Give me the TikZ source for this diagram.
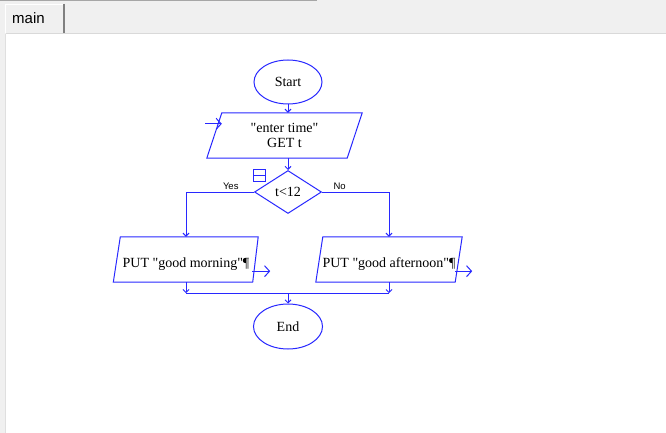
\documentclass[tikz,border=0pt]{standalone}
\usepackage{fontspec}
\setmainfont{Liberation Serif}
\newfontfamily\guifont{Liberation Sans}
\usetikzlibrary{shapes.geometric,arrows.meta}
\definecolor{flowblue}{RGB}{40,40,255}
\definecolor{panelgray}{RGB}{240,240,240}
\newcommand\qt{\textquotedbl}
\begin{document}
\begin{tikzpicture}[x=1pt,y=-1pt,
    >={Straight Barb[length=3pt,width=6pt]},
    flow/.style={draw=flowblue,line width=1pt,inner sep=0pt,font=\fontsize{14}{15}\selectfont},
    term/.style={flow,ellipse,minimum width=68pt,minimum height=44pt},
    io/.style={inner sep=0pt,font=\fontsize{14}{15}\selectfont,minimum height=45pt,align=center},
    putbox/.style={io,text height=19pt,text depth=3pt},
    slant/.style={draw=flowblue,line width=1pt},
    decide/.style={flow,diamond,minimum width=67pt,minimum height=43pt},
    link/.style={draw=flowblue,line width=1pt,->},
    iolink/.style={draw=flowblue,line width=1pt,-{Straight Barb[length=5pt,width=11pt]}},
    branch/.style={font=\guifont\fontsize{9.5}{10}\selectfont,inner sep=1pt}]
    % window
    \useasboundingbox (0,0) rectangle (666,433);
    \fill[panelgray] (0,0) rectangle (666,433);
    \fill[white] (6,34) rectangle (666,433);
    \draw[gray!30] (6,33.5) -- (666,33.5);
    \draw[gray!25] (5.5,34) -- (5.5,433);
    \draw[gray!70,line width=1.5pt] (0,0.7) -- (317,0.7);
    \draw[white] (5.5,33) -- (5.5,4.5) -- (63,4.5);
    \draw[gray,line width=1.5pt] (64,4) -- (64,33);
    \node[font=\guifont\fontsize{15}{16}\selectfont,anchor=base west,inner sep=0pt] (tabmain) at (12,23.5) {main};
    % flowchart
    \node[term] (start) at (288,82) {Start};
    \node[io,minimum width=140pt] (getT) at (284.5,135.5) {\qt enter time\qt\\GET t};
    \draw[slant] ([xshift=7.5pt]getT.north west) -- ([xshift=7.5pt]getT.north east)
        -- ([xshift=-7.5pt]getT.south east) -- ([xshift=-7.5pt]getT.south west) -- cycle;
    \node[decide] (test) at (288,192) {t<12};
    \node[draw=flowblue,line width=.8pt,minimum size=12pt,inner sep=0pt] (fold) at (259.5,175) {};
    \draw[flowblue,line width=.8pt] (fold.west) -- (fold.east);
    \node[putbox,minimum width=138pt] (morning) at (186,259.5) {PUT \qt good morning\qt¶};
    \draw[slant] ([xshift=3.5pt]morning.north west) -- ([xshift=3pt]morning.north east)
        -- ([xshift=-2.5pt]morning.south east) -- ([xshift=-3.5pt]morning.south west) -- cycle;
    \node[putbox,minimum width=139pt] (noon) at (389,259.5) {PUT \qt good afternoon\qt¶};
    \draw[slant] ([xshift=3.5pt]noon.north west) -- ([xshift=3.5pt]noon.north east)
        -- ([xshift=-3.5pt]noon.south east) -- ([xshift=-3.5pt]noon.south west) -- cycle;
    \node[term,minimum width=69pt,minimum height=45pt] (stop) at (288,326.5) {End};
    % connectors
    \draw[link] (start) -- (start.south |- getT.north);
    \draw[iolink,{Straight Barb[length=5pt,width=11pt]}-] ([xshift=7.5pt,yshift=-11pt]getT.north west) -- ++(-17,0);
    \draw[link] (test.north |- getT.south) -- (test.north);
    \draw[link] (test.west) node[branch,anchor=south east,xshift=-14pt,yshift=1pt] (yes) {Yes} -| (morning.north);
    \draw[link] (test.east) node[branch,anchor=south west,xshift=10pt,yshift=1pt] (no) {No} -| (noon.north);
    \draw[iolink] ([xshift=-3pt,yshift=11pt]morning.south east) -- ++(18,0);
    \draw[iolink] ([xshift=-3.5pt,yshift=11pt]noon.south east) -- ++(17,0);
    \draw[link] (morning.south) -- ++(0,11) coordinate (joinL);
    \draw[link] (noon.south) -- (noon.south |- joinL) coordinate (joinR);
    \draw[flowblue,line width=1pt] (joinL) -- (joinR);
    \draw[link] (stop.north |- joinL) -- (stop.north);
\end{tikzpicture}
\end{document}
